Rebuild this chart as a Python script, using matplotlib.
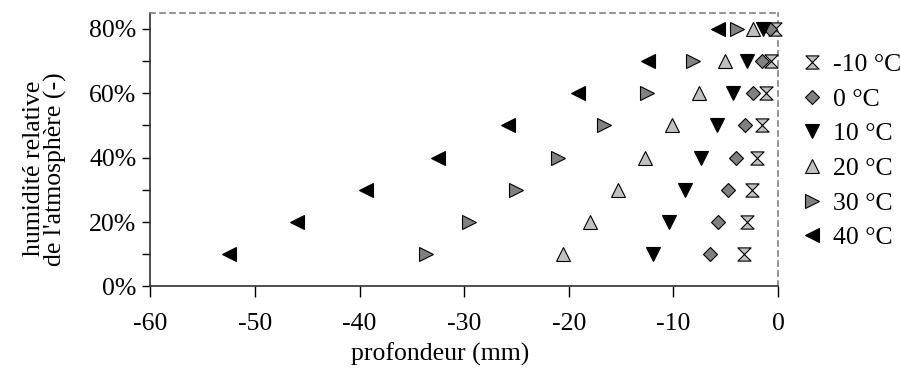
import matplotlib
matplotlib.use("Agg")
import matplotlib.pyplot as plt
from matplotlib.path import Path
from matplotlib.ticker import MultipleLocator, PercentFormatter

plt.rcParams['font.family'] = ['Liberation Serif', 'DejaVu Serif']
plt.rcParams['axes.unicode_minus'] = False

humidity = [0.10, 0.20, 0.30, 0.40, 0.50, 0.60, 0.70, 0.80]
labels = ['-10 °C', '0 °C', '10 °C', '20 °C', '30 °C', '40 °C']
depth_m10 = [-3.3, -3.0, -2.5, -2.0, -1.5, -1.15, -0.7, -0.25]
depth_0 = [-6.5, -5.7, -4.8, -4.0, -3.2, -2.4, -1.5, -0.8]
depth_10 = [-11.95, -10.4, -8.9, -7.4, -5.8, -4.3, -3.0, -1.4]
depth_20 = [-20.6, -18.0, -15.3, -12.7, -10.1, -7.6, -5.1, -2.4]
depth_30 = [-33.7, -29.5, -25.1, -21.0, -16.6, -12.5, -8.1, -3.9]
depth_40 = [-52.5, -46.0, -39.4, -32.5, -25.8, -19.1, -12.4, -5.7]

hourglass = Path([(-1, 1), (1, 1), (-1, -1), (1, -1), (-1, 1)],
                 [Path.MOVETO, Path.LINETO, Path.LINETO, Path.LINETO, Path.CLOSEPOLY])

series = [
    (depth_m10, hourglass, '#c0c0c0', 9.5),
    (depth_0, 'D', '#808080', 7),
    (depth_10, 'v', '#000000', 10),
    (depth_20, '^', '#c0c0c0', 10),
    (depth_30, '>', '#808080', 10),
    (depth_40, '<', '#000000', 10),
]

FS = 18.5

fig = plt.figure(figsize=(9, 3.68), dpi=100)
ax = fig.add_axes([0.1672, 0.2215, 0.6973, 0.7440])

for (vals, mk, col, ms), lab in zip(series, labels):
    ax.plot(vals, humidity, linestyle='none', marker=mk, markersize=ms,
            markerfacecolor=col, markeredgecolor='#000000', markeredgewidth=0.8,
            label=lab, clip_on=False, zorder=3)

ax.set_xlim(-60, 0)
ax.set_ylim(0, 0.85)
ax.xaxis.set_major_locator(MultipleLocator(10))
ax.yaxis.set_major_locator(MultipleLocator(0.2))
ax.yaxis.set_minor_locator(MultipleLocator(0.1))
ax.yaxis.set_major_formatter(PercentFormatter(1.0, decimals=0))

ax.tick_params(axis='both', which='both', direction='out', labelsize=FS,
               color='#000000', width=1)
ax.tick_params(axis='x', which='major', length=8, pad=11)
ax.tick_params(axis='y', which='both', length=6, pad=4)

for s in ['top', 'right']:
    ax.spines[s].set_linestyle((0, (3, 3)))
    ax.spines[s].set_color('#808080')
    ax.spines[s].set_linewidth(1.2)
for s in ['left', 'bottom']:
    ax.spines[s].set_color('#303030')
    ax.spines[s].set_linewidth(1.2)

ax.set_xlabel('profondeur (mm)', fontsize=FS)
ax.xaxis.set_label_coords(0.462, -0.205)
ax.set_ylabel("humidité relative\nde l'atmosphère (-)", fontsize=FS,
              linespacing=0.95)
ax.yaxis.set_label_coords(-0.133, 0.43)

leg = fig.legend(loc='upper left', bbox_to_anchor=(0.888, 0.855), frameon=False,
                 fontsize=FS, handlelength=1.0, handletextpad=0.32,
                 labelspacing=0.45, borderaxespad=0, borderpad=0)

fig.savefig('out.png', dpi=100)
